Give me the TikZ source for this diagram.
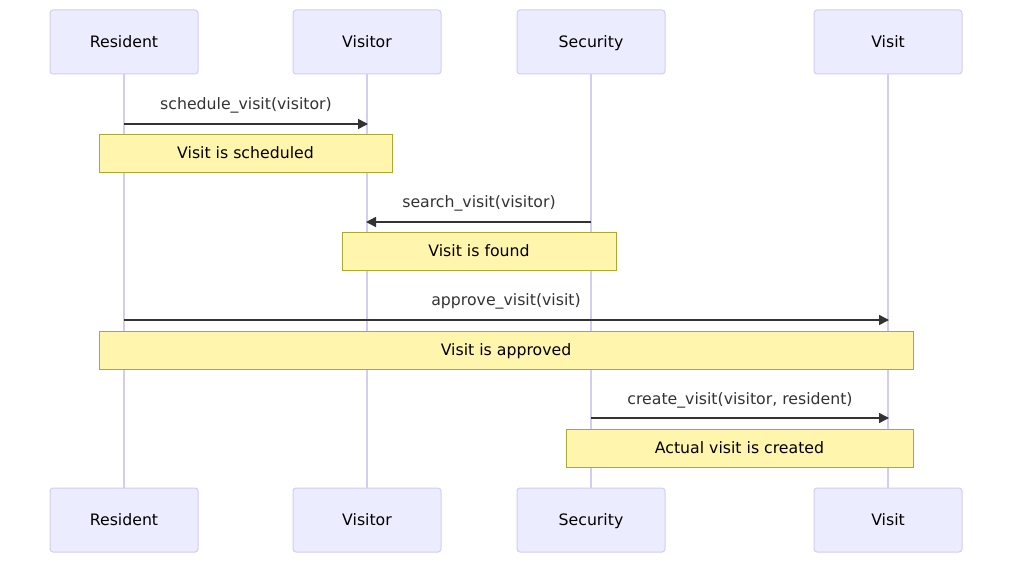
\documentclass[tikz,border=0pt]{standalone}
\usepackage{fontspec}
\setmainfont{DejaVu Sans}
\usetikzlibrary{arrows.meta}
\definecolor{actfill}{HTML}{ECECFF}
\definecolor{actline}{HTML}{D3CCF5}
\definecolor{lifeline}{HTML}{D3CCF5}
\definecolor{notefill}{HTML}{FFF5AD}
\definecolor{noteline}{HTML}{AAAA33}
\definecolor{msg}{HTML}{333333}
\tikzset{
  txt/.style={font=\fontsize{11.8}{14}\selectfont, text height=9.6pt, text depth=1.2pt},
  actor/.style={txt, draw=actline, fill=actfill, rounded corners=2.25pt, line width=0.75pt,
    minimum width=111pt, minimum height=48pt, inner sep=0pt},
  notebox/.style={txt, draw=noteline, fill=notefill, line width=0.75pt, inner sep=0pt,
    minimum height=28.5pt},
  lifelinestyle/.style={draw=lifeline, line width=1.1pt},
  msgline/.style={draw=msg, line width=1.1pt, -{Triangle[length=7.5pt,width=7.5pt]}},
  msglabel/.style={txt, text=msg, inner sep=0pt}
}
\begin{document}
\begin{tikzpicture}[x=0.75pt,y=-0.75pt]
\useasboundingbox (0,0) rectangle (1020,567);
% actors top
\node[actor] (rt) at (124,42) {Resident};
\node[actor] (vt) at (367,42) {Visitor};
\node[actor] (st) at (591,42) {Security};
\node[actor] (xt) at (888,42) {Visit};
% actors bottom
\node[actor] (rb) at (124,520) {Resident};
\node[actor] (vb) at (367,520) {Visitor};
\node[actor] (sb) at (591,520) {Security};
\node[actor] (xb) at (888,520) {Visit};
% lifelines
\draw[lifelinestyle] (rt.south) -- (rb.north);
\draw[lifelinestyle] (vt.south) -- (vb.north);
\draw[lifelinestyle] (st.south) -- (sb.north);
\draw[lifelinestyle] (xt.south) -- (xb.north);
% message points
\coordinate (m1a) at (124,124); \coordinate (m1b) at (368,124);
\coordinate (m2a) at (591,222); \coordinate (m2b) at (366,222);
\coordinate (m3a) at (124,320); \coordinate (m3b) at (889,320);
\coordinate (m4a) at (591,418); \coordinate (m4b) at (889,418);
% messages
\draw[msgline] (m1a) -- (m1b);
\node[msglabel] (l1) at (246,104) {schedule\_visit(visitor)};
\draw[msgline] (m2a) -- (m2b);
\node[msglabel] (l2) at (479,202) {search\_visit(visitor)};
\draw[msgline] (m3a) -- (m3b);
\node[msglabel] (l3) at (506,300) {approve\_visit(visit)};
\draw[msgline] (m4a) -- (m4b);
\node[msglabel] (l4) at (740,399) {create\_visit(visitor, resident)};
% notes
\node[notebox, minimum width=219.75pt] (n1) at (245.5,153) {Visit is scheduled};
\node[notebox, minimum width=205.5pt] (n2) at (479,251) {Visit is found};
\node[notebox, minimum width=610.5pt] (n3) at (506,350) {Visit is approved};
\node[notebox, minimum width=260.25pt] (n4) at (739.5,448) {Actual visit is created};
\end{tikzpicture}
\end{document}
